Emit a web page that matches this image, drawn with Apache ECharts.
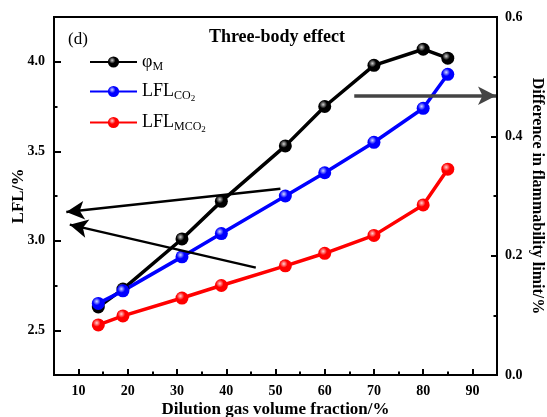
<!DOCTYPE html>
<html>
<head>
<meta charset="utf-8">
<script src="https://cdn.jsdelivr.net/npm/echarts@6/dist/echarts.min.js"></script>
<style>
    html, body { margin: 0; padding: 0; background: #fff; }
    #chart { width: 547px; height: 417px; }
</style>
</head>
<body>
<div id="chart"></div>
<script>
// 数据
const dilution = [14, 19, 31, 39, 52, 60, 70, 80, 85];
const phiM = [2.63, 2.73, 3.01, 3.22, 3.53, 3.75, 3.98, 4.07, 4.02];
const lflCO2 = [2.65, 2.72, 2.91, 3.04, 3.25, 3.38, 3.55, 3.74, 3.93];
const lflMCO2 = [2.53, 2.58, 2.68, 2.75, 2.86, 2.93, 3.03, 3.20, 3.40];
const xTicks = [10, 20, 30, 40, 50, 60, 70, 80, 90];
const xMinor = [15, 25, 35, 45, 55, 65, 75, 85];
const yTicks = [2.5, 3.0, 3.5, 4.0];
const yMinor = [2.75, 3.25, 3.75];
// 注释箭头 [起点, 终点]
const arrows = [
    [[51, 3.29], [7.5, 3.16]],
    [[46, 2.85], [8.2, 3.09]],
    [[66, 3.81], [94.8, 3.81]]
];

const font = 'Liberation Serif';

function ball(c, hi) {
    return {
        type: 'radial', x: 0.38, y: 0.35, r: 0.65,
        colorStops: [{ offset: 0, color: hi }, { offset: 0.45, color: c }, { offset: 1, color: c }]
    };
}

function makeSeries(name, data, color, hi) {
    return {
        name: name,
        type: 'line',
        data: dilution.map((x, i) => [x, data[i]]),
        symbol: 'circle',
        symbolSize: 13,
        lineStyle: { color: color, width: 3.5 },
        itemStyle: { color: ball(color, hi), borderWidth: 0 },
        z: 3
    };
}

const chart = echarts.init(document.getElementById('chart'));

const series = [
    makeSeries('phi', phiM, '#000000', '#cfcfcf'),
    makeSeries('co2', lflCO2, '#0000ff', '#d0d8ff'),
    makeSeries('mco2', lflMCO2, '#ff0000', '#ffd0d0')
];
// 箭头
series.push({
    type: 'line',
    data: [],
    z: 4,
    markLine: {
        silent: true,
        symbol: ['none', 'arrow'],
        symbolSize: [14, 18],
        label: { show: false },
        data: arrows.map((a, i) => {
            const c = i === 2 ? '#444' : '#000';
            return [
                { coord: a[0], lineStyle: { color: c, width: i === 2 ? 3.5 : 2.5, type: 'solid' }, itemStyle: { color: c } },
                { coord: a[1] }
            ];
        })
    }
});

const names = {
    phi: '{t|φ}{s|M}',
    co2: '{t|LFL}{s|CO}{ss|2}',
    mco2: '{t|LFL}{s|MCO}{ss|2}'
};

const tickStyle = { color: '#000', width: 2 };
const labelStyle = { fontFamily: font, fontSize: 14, fontWeight: 'bold', color: '#000' };

chart.setOption({
    animation: false,
    grid: {
        left: 54, right: 50, top: 17, bottom: 42,
        outerBoundsMode: 'none',
        containLabel: false,
        show: true, borderColor: '#000', borderWidth: 2
    },
    title: [
        { text: '(d)', left: 63, top: 26, textStyle: { fontFamily: font, fontSize: 17, fontWeight: 'normal', color: '#000' } },
        { text: 'Three-body effect', left: 272, top: 23, textAlign: 'center', textStyle: { fontFamily: font, fontSize: 18, fontWeight: 'bold', color: '#000' } }
    ],
    legend: {
        orient: 'vertical',
        left: 89, top: 53, padding: 0,
        itemWidth: 47, itemHeight: 14, itemGap: 10,
        data: ['phi', 'co2', 'mco2'],
        formatter: n => names[n],
        textStyle: {
            color: '#000',
            fontFamily: font,
            rich: {
                t: { fontFamily: font, fontSize: 18, color: '#000' },
                s: { fontFamily: font, fontSize: 12, color: '#000', padding: [9, 0, 0, 0] },
                ss: { fontFamily: font, fontSize: 9, color: '#000', padding: [15, 0, 0, 0] }
            }
        }
    },
    xAxis: [{
        type: 'value', min: 5, max: 95,
        name: 'Dilution gas volume fraction/%',
        nameLocation: 'middle', nameGap: 26, nameMoveOverlap: false,
        nameTextStyle: { fontFamily: font, fontSize: 17, fontWeight: 'bold', color: '#000' },
        axisLine: { lineStyle: { color: '#000', width: 2 } },
        axisTick: { inside: true, length: 6, customValues: xTicks, lineStyle: tickStyle },
        axisLabel: Object.assign({ customValues: xTicks, margin: 9 }, labelStyle),
        splitLine: { show: false }
    }, {
        type: 'value', min: 5, max: 95, position: 'bottom',
        axisLine: { show: false },
        axisTick: { inside: true, length: 3.5, customValues: xMinor, lineStyle: tickStyle },
        axisLabel: { show: false },
        splitLine: { show: false }
    }],
    yAxis: [{
        type: 'value', min: 2.25, max: 4.25, position: 'left',
        name: 'LFL/%', nameLocation: 'middle', nameGap: 27, nameMoveOverlap: false,
        nameTextStyle: { fontFamily: font, fontSize: 17, fontWeight: 'bold', color: '#000' },
        axisLine: { show: true, lineStyle: { color: '#000', width: 2 } },
        axisTick: { show: true, inside: true, length: 7, customValues: yTicks, lineStyle: tickStyle },
        axisLabel: Object.assign({ customValues: yTicks, margin: 9, formatter: v => v.toFixed(1) }, labelStyle),
        splitLine: { show: false }
    }, {
        type: 'value', min: 2.25, max: 4.25, position: 'left',
        axisLine: { show: false },
        axisTick: { show: true, inside: true, length: 3.5, customValues: yMinor, lineStyle: tickStyle },
        axisLabel: { show: false },
        splitLine: { show: false }
    }, {
        type: 'value', min: 0, max: 0.6, interval: 0.2, position: 'right',
        name: 'Difference in flammability limit/%', nameLocation: 'middle', nameGap: 32, nameRotate: -90, nameMoveOverlap: false,
        nameTextStyle: { fontFamily: font, fontSize: 16, fontWeight: 'bold', color: '#000' },
        axisLine: { show: true, lineStyle: { color: '#000', width: 2 } },
        axisTick: { show: true, inside: true, length: 6, lineStyle: tickStyle },
        minorTick: { show: true, splitNumber: 2, length: 3.5, lineStyle: tickStyle },
        axisLabel: Object.assign({ margin: 8, formatter: v => v.toFixed(1) }, labelStyle),
        splitLine: { show: false }
    }],
    series: series
});
</script>
</body>
</html>
